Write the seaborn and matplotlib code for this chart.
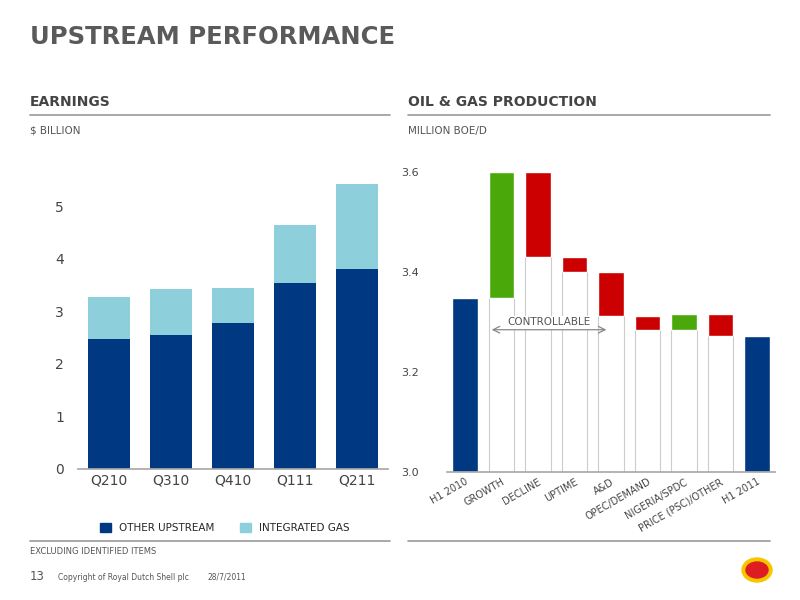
import matplotlib
matplotlib.use("Agg")
import matplotlib.pyplot as plt
import seaborn as sns
import pandas as pd
import numpy as np
from matplotlib.lines import Line2D
from matplotlib.patches import Patch, Ellipse

quarters = ["Q210", "Q310", "Q410", "Q111", "Q211"]
other_upstream = [2.47, 2.55, 2.78, 3.54, 3.80]
integrated_gas = [0.80, 0.87, 0.66, 1.10, 1.62]

wf_labels = ["H1 2010", "GROWTH", "DECLINE", "UPTIME", "A&D", "OPEC/DEMAND",
             "NIGERIA/SPDC", "PRICE (PSC)/OTHER", "H1 2011"]
wf_low = [3.0, 3.348, 3.43, 3.40, 3.312, 3.284, 3.284, 3.272, 3.0]
wf_high = [3.348, 3.60, 3.60, 3.43, 3.40, 3.312, 3.316, 3.316, 3.272]
wf_kind = ["total", "up", "down", "down", "down", "down", "up", "down", "total"]

sns.set_theme(style="white")
plt.rcParams['font.family'] = ['DejaVu Sans']
DB, LB, GR, RD, GREY = "#003882", "#8ecfdc", "#4aa80a", "#cc0000", "#555555"

fig = plt.figure(figsize=(8, 6), dpi=100)
W, H = 800, 600
def ax_at(x0, y0, x1, y1):
    return fig.add_axes([x0 / W, 1 - y1 / H, (x1 - x0) / W, (y1 - y0) / H])

fig.text(30 / W, 1 - 37 / H, "UPSTREAM PERFORMANCE", fontsize=17.5, fontweight="bold", color="#5a5a5a", va="center")
fig.text(30 / W, 1 - 102 / H, "EARNINGS", fontsize=10, fontweight="bold", color="#444444", va="center")
fig.text(408 / W, 1 - 102 / H, "OIL & GAS PRODUCTION", fontsize=10, fontweight="bold", color="#444444", va="center")
fig.text(30 / W, 1 - 131 / H, "$ BILLION", fontsize=7.5, color=GREY, va="center")
fig.text(408 / W, 1 - 131 / H, "MILLION BOE/D", fontsize=7.5, color=GREY, va="center")
for x0, x1, y in [(30, 390, 115), (408, 770, 115), (30, 390, 541), (408, 770, 541)]:
    fig.add_artist(Line2D([x0 / W, x1 / W], [1 - y / H] * 2, color="#999999", lw=1.2))
fig.text(30 / W, 1 - 552 / H, "EXCLUDING IDENTIFIED ITEMS", fontsize=6, color=GREY, va="center")
fig.text(30 / W, 1 - 577 / H, "13", fontsize=8.5, color=GREY, va="center")
fig.text(58 / W, 1 - 577 / H, "Copyright of Royal Dutch Shell plc", fontsize=5.5, color=GREY, va="center")
fig.text(208 / W, 1 - 577 / H, "28/7/2011", fontsize=5.5, color=GREY, va="center")

# Left chart
ax = ax_at(78, 165, 388, 469)
df = pd.DataFrame({"q": quarters, "o": other_upstream,
                   "t": np.array(other_upstream) + np.array(integrated_gas)})
sns.barplot(data=df, x="q", y="t", color=LB, width=0.69, ax=ax, saturation=1, linewidth=0)
sns.barplot(data=df, x="q", y="o", color=DB, width=0.69, ax=ax, saturation=1, linewidth=0)
ax.set_ylim(0, 5.78)
ax.set_yticks(range(6))
ax.set_xlabel(""); ax.set_ylabel("")
sns.despine(ax=ax, left=True)
ax.spines["bottom"].set_color("#aaaaaa")
ax.tick_params(colors="#444444", labelsize=10, length=0)
ax.tick_params(axis="y", pad=10)

fig.legend(handles=[Patch(color=DB, label="OTHER UPSTREAM"), Patch(color=LB, label="INTEGRATED GAS")],
           loc="center", bbox_to_anchor=(225 / W, 1 - 528 / H), ncol=2, frameon=False,
           fontsize=7.5, handlelength=1, handleheight=1, columnspacing=2.5)

# Right chart
ax2 = ax_at(447, 160, 775, 472)
x = np.arange(len(wf_labels))
colors = [DB if k == "total" else (GR if k == "up" else RD) for k in wf_kind]
ax2.bar(x, np.array(wf_high) - np.array(wf_low), bottom=wf_low, color=colors, width=0.7)
for i in range(1, len(x) - 1):
    ax2.vlines([x[i] - 0.35, x[i] + 0.35], 3.0, wf_low[i], color="#cccccc", lw=0.8)
ax2.set_ylim(3.0, 3.625)
ax2.set_xlim(-0.5, len(x) - 0.5)
ax2.set_yticks([3.0, 3.2, 3.4, 3.6])
ax2.set_yticklabels(["3.0", "3.2", "3.4", "3.6"])
ax2.set_xticks(x)
ax2.set_xticklabels(wf_labels, rotation=30, ha="right", rotation_mode="anchor")
sns.despine(ax=ax2, left=True)
ax2.spines["bottom"].set_color("#aaaaaa")
ax2.tick_params(colors="#444444", labelsize=7, length=0)
ax2.tick_params(axis="y", labelsize=8, pad=20)
ax2.annotate("", xy=(0.65, 3.285), xytext=(3.95, 3.285),
             arrowprops=dict(arrowstyle="<->", color="#888888", lw=0.9))
ax2.text(2.3, 3.29, "CONTROLLABLE", fontsize=7.5, color="#555555", ha="center", va="bottom",
         bbox=dict(facecolor="white", edgecolor="none", pad=1))

# Shell logo approximation
fig.add_artist(Ellipse((757 / W, 1 - 570 / H), 30 / W, 24 / H, color="#f7c600"))
fig.add_artist(Ellipse((757 / W, 1 - 570 / H), 22 / W, 16 / H, color="#dd1d21"))

fig.savefig("out.png", dpi=100)
